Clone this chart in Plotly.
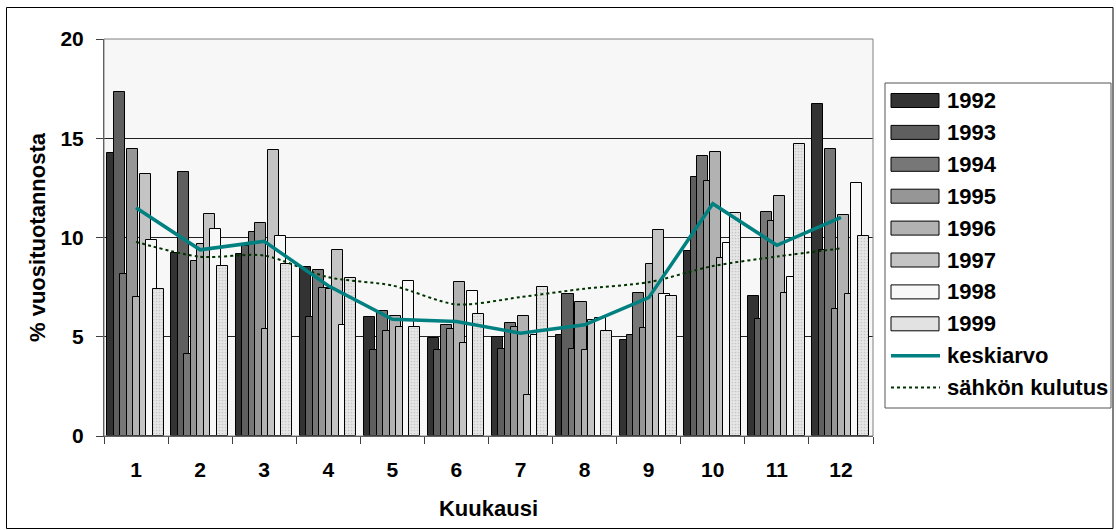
import plotly.graph_objects as go

months = ["1", "2", "3", "4", "5", "6", "7", "8", "9", "10", "11", "12"]
years = ["1992", "1993", "1994", "1995", "1996", "1997", "1998", "1999"]

v1992 = [14.24, 9.23, 9.16, 8.52, 6.00, 4.93, 4.99, 5.08, 4.82, 9.31, 7.06, 16.72]
v1993 = [17.33, 13.31, 9.56, 6.00, 4.32, 4.32, 4.39, 7.13, 5.11, 13.06, 5.87, 9.39]
v1994 = [8.18, 4.15, 10.30, 8.34, 6.30, 5.58, 5.70, 4.39, 7.21, 14.10, 11.26, 14.45]
v1995 = [14.45, 8.81, 10.72, 7.48, 5.29, 5.37, 5.50, 6.73, 5.45, 12.84, 10.84, 6.42]
v1996 = [7.01, 9.65, 5.41, 7.43, 6.07, 7.74, 6.07, 4.32, 8.69, 14.32, 12.10, 11.13]
v1997 = [13.19, 11.19, 14.40, 9.38, 5.50, 4.71, 2.07, 5.83, 10.37, 8.97, 7.18, 7.13]
v1998 = [9.87, 10.42, 10.08, 5.58, 7.82, 7.31, 5.08, 5.92, 7.13, 9.73, 8.02, 12.77]
v1999 = [7.39, 8.54, 8.67, 7.97, 5.47, 6.14, 7.50, 5.30, 7.06, 11.21, 14.71, 10.07]
keskiarvo = [11.50, 9.38, 9.81, 7.57, 5.88, 5.77, 5.18, 5.60, 6.97, 11.70, 9.61, 11.01]
kulutus = [9.78, 9.03, 9.09, 8.00, 7.58, 6.63, 7.00, 7.42, 7.75, 8.56, 9.04, 9.45]

series_values = [v1992, v1993, v1994, v1995, v1996, v1997, v1998, v1999]
bar_colors = ["#333333", "#5f5f5f", "#777777", "#969696", "#b2b2b2", "#c4c4c4", "#f8f8f8", "#e2e2e2"]
line_names = ["keskiarvo", "sähkön kulutus"]

FONT = "Liberation Sans, Arial, sans-serif"

# plot-area geometry in page pixels
L, R, T, B = 104, 873, 39, 436
W, H = 1116, 530


def px_x(px):
    return (px - L) / (R - L)


def px_y(py):
    return (B - py) / (B - T)


fig = go.Figure()

bar_w = 0.172
step = 0.1014
start = -0.447
for i, (yr, vals, col) in enumerate(zip(years, series_values, bar_colors)):
    marker = dict(color=col, line=dict(color="black", width=1))
    if yr == "1999":
        marker["pattern"] = dict(shape=".", fgcolor="#a8a8a8", bgcolor="#e6e6e6", size=3, solidity=0.25)
    fig.add_trace(go.Bar(
        x=months, y=vals, name=yr, offset=start + i * step, width=bar_w,
        marker=marker, showlegend=False,
    ))

fig.add_trace(go.Scatter(
    x=months, y=kulutus, name=line_names[1], mode="lines",
    line=dict(color="#003300", width=2, dash="dot", shape="spline", smoothing=0.8),
    showlegend=False,
))
fig.add_trace(go.Scatter(
    x=months, y=keskiarvo, name=line_names[0], mode="lines",
    line=dict(color="#008080", width=3.5),
    showlegend=False,
))

shapes = []
annotations = []
# plot area border
shapes.append(dict(type="rect", xref="paper", yref="paper", x0=0, x1=1, y0=0, y1=1,
                   line=dict(color="#808080", width=1), layer="above"))
# outer chart border
shapes.append(dict(type="rect", xref="paper", yref="paper",
                   x0=px_x(6.5), x1=px_x(1113), y0=px_y(528.5), y1=px_y(7.5),
                   line=dict(color="black", width=1)))
# legend box
shapes.append(dict(type="rect", xref="paper", yref="paper",
                   x0=px_x(885), x1=px_x(1111), y0=px_y(408), y1=px_y(83),
                   line=dict(color="#555555", width=1), fillcolor="white", layer="below"))

legend_labels = years + line_names
for i, lab in enumerate(legend_labels):
    cy = 100.5 + i * 31.9
    if i < len(years):
        shapes.append(dict(type="rect", xref="paper", yref="paper",
                           x0=px_x(891), x1=px_x(939), y0=px_y(cy + 7), y1=px_y(cy - 7),
                           fillcolor=bar_colors[i], line=dict(color="black", width=1)))
    elif lab == "keskiarvo":
        shapes.append(dict(type="line", xref="paper", yref="paper",
                           x0=px_x(891), x1=px_x(940), y0=px_y(cy), y1=px_y(cy),
                           line=dict(color="#008080", width=3.5)))
    else:
        shapes.append(dict(type="line", xref="paper", yref="paper",
                           x0=px_x(891), x1=px_x(940), y0=px_y(cy), y1=px_y(cy),
                           line=dict(color="#003300", width=2, dash="dot")))
    annotations.append(dict(text=lab, xref="paper", yref="paper", x=px_x(945), y=px_y(cy),
                            xanchor="left", yanchor="middle", showarrow=False,
                            font=dict(family=FONT, size=22, color="black", weight="bold")))

fig.update_layout(
    width=W, height=H, autosize=False,
    margin=dict(l=L, r=W - R, t=T, b=H - B, pad=0),
    paper_bgcolor="white", plot_bgcolor="#f7f7f7",
    barmode="overlay", bargap=0,
    shapes=shapes, annotations=annotations,
    showlegend=False,
    xaxis=dict(
        type="category", range=[-0.5, 11.5], tickson="boundaries",
        ticks="outside", ticklen=7, tickcolor="#404040", tickwidth=1,
        showline=True, linecolor="#404040", linewidth=1, showgrid=False,
        tickfont=dict(family=FONT, size=21, color="black", weight="bold"),
        ticklabelstandoff=15,
        title=dict(text="Kuukausi", standoff=20,
                   font=dict(family=FONT, size=22, color="black", weight="bold")),
    ),
    yaxis=dict(
        range=[0, 20], tickvals=[0, 5, 10, 15, 20],
        ticks="outside", ticklen=7, tickcolor="#404040", tickwidth=1,
        showline=True, linecolor="#404040", linewidth=1,
        showgrid=True, gridcolor="#222222", gridwidth=1, zeroline=False,
        tickfont=dict(family=FONT, size=21, color="black", weight="bold"),
        ticklabelstandoff=8,
        title=dict(text="% vuosituotannosta", standoff=8,
                   font=dict(family=FONT, size=22, color="black", weight="bold")),
    ),
)

fig.write_html(
    "out.html",
    config={"displayModeBar": False},
    post_script="document.body.style.margin='0px';document.body.style.overflow='hidden';",
)
